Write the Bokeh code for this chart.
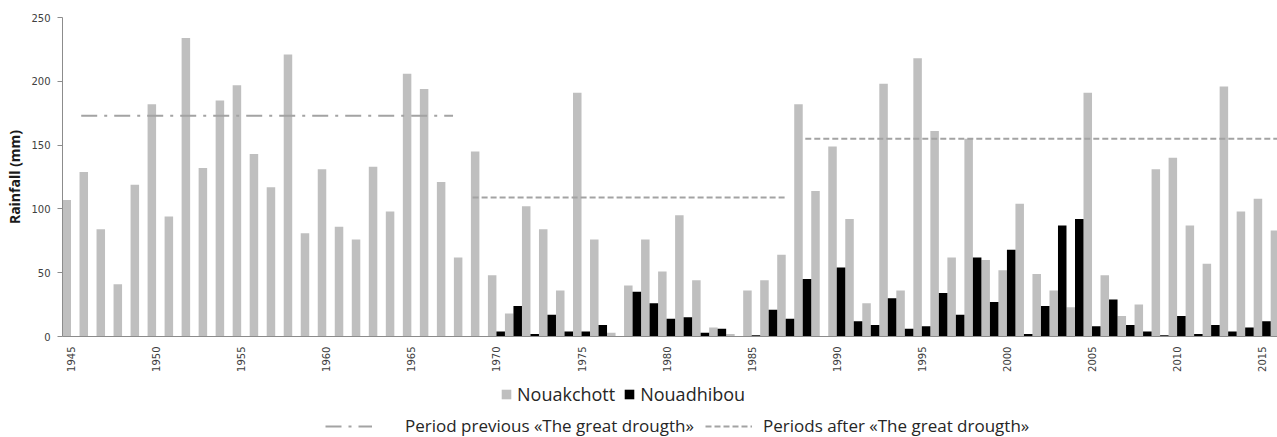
import math
from bokeh.plotting import figure
from bokeh.layouts import column
from bokeh.models import FixedTicker, Legend, LegendItem, ColumnDataSource
from bokeh.transform import dodge
from bokeh.embed import file_html
from bokeh.resources import INLINE

years = list(range(1945, 2017))
nouakchott = [107, 129, 84, 41, 119, 182, 94, 234, 132, 185,
              197, 143, 117, 221, 81, 131, 86, 76, 133, 98,
              206, 194, 121, 62, 145, 48, 18, 102, 84, 36,
              191, 76, 3, 40, 76, 51, 95, 44, 7, 2,
              36, 44, 64, 182, 114, 149, 92, 26, 198, 36,
              218, 161, 62, 155, 60, 52, 104, 49, 36, 23,
              191, 48, 16, 25, 131, 140, 87, 57, 196, 98,
              108, 83]
nouadhibou_years = list(range(1970, 2017))
nouadhibou = [4, 24, 2, 17, 4, 4, 9, None, 35, 26,
              14, 15, 3, 6, None, 1, 21, 14, 45, None,
              54, 12, 9, 30, 6, 8, 34, 17, 62, 27,
              68, 2, 24, 87, 92, 8, 29, 9, 4, 1,
              16, 2, 9, 4, 7, 12, None]

series_names = ["Nouakchott", "Nouadhibou"]
period_names = ["Period previous «The great drougth»",
                "Periods after «The great drougth»"]
period_start = [1945.6, 1968.6, 1988.15]
period_end = [1967.45, 1987.05, 2016.5]
period_mean = [173, 109, 155]

x_ticks = list(range(1945, 2016, 5))
y_ticks = [0, 50, 100, 150, 200, 250]

GRAY = "#bfbfbf"
BLACK = "#000000"
LINE = "#a3a3a3"
DASHDOT = "16 7 3 7"
DASHED = "6 3"

nk = ColumnDataSource(dict(year=years, rain=nouakchott))
nd = ColumnDataSource(dict(year=nouadhibou_years,
                           rain=[float("nan") if v is None else v for v in nouadhibou]))

p = figure(width=1277, height=380, x_range=(1944.5, 2015.9), y_range=(0, 250),
           output_backend="svg", toolbar_location=None,
           min_border_left=62, min_border_right=0, min_border_top=17,
           min_border_bottom=44)
p.xgrid.visible = False
p.ygrid.visible = False
p.outline_line_color = None

p.vbar(x=dodge("year", -0.25), top="rain", width=0.5, source=nk,
       fill_color=GRAY, line_color=None)
p.vbar(x=dodge("year", 0.25), top="rain", width=0.5, source=nd,
       fill_color=BLACK, line_color=None)

p.segment(x0=period_start[:1], x1=period_end[:1], y0=period_mean[:1], y1=period_mean[:1],
          line_color=LINE, line_width=2, line_dash=DASHDOT)
p.segment(x0=period_start[1:], x1=period_end[1:], y0=period_mean[1:], y1=period_mean[1:],
          line_color=LINE, line_width=2, line_dash=DASHED)

ax = p.yaxis[0]
ax.ticker = FixedTicker(ticks=y_ticks)
ax.axis_line_color = "#8c8c8c"
ax.major_tick_line_color = "#8c8c8c"
ax.major_tick_out = 5
ax.major_tick_in = 0
ax.minor_tick_line_color = None
ax.major_label_text_font = "DejaVu Sans"
ax.major_label_text_font_size = "10px"
ax.major_label_text_color = "#404040"
ax.major_label_standoff = 7
ax.axis_label = "Rainfall (mm)"
ax.axis_label_text_font = "Open Sans"
ax.axis_label_text_font_style = "bold"
ax.axis_label_text_font_size = "14px"
ax.axis_label_text_color = "#1a1a1a"
ax.axis_label_standoff = 4

bx = p.xaxis[0]
bx.ticker = FixedTicker(ticks=x_ticks)
bx.axis_line_color = "#8c8c8c"
bx.major_tick_out = 0
bx.major_tick_in = 0
bx.minor_tick_line_color = None
bx.major_label_orientation = math.pi / 2
bx.major_label_text_font = "DejaVu Sans"
bx.major_label_text_font_size = "10px"
bx.major_label_text_color = "#404040"
bx.major_label_standoff = 10

# legend strip below the chart (its frame is aligned with the chart frame, left = 62px)
q = figure(width=1277, height=57, x_range=(0, 1), y_range=(0, 1),
           output_backend="svg", toolbar_location=None,
           x_axis_type=None, y_axis_type=None, min_border=0)
q.outline_line_color = None
q.grid.visible = False
# legend-only renderers, placed entirely outside the strip's visible range
s_nk = q.vbar(x=[-5], bottom=[-6], top=[-5], width=0.5, fill_color=GRAY, line_color=None)
s_nd = q.vbar(x=[-5], bottom=[-6], top=[-5], width=0.5, fill_color=BLACK, line_color=None)
s_prev = q.segment(x0=[-5], x1=[-4], y0=[-5], y1=[-5], line_color=LINE, line_width=2, line_dash=DASHDOT)
s_after = q.segment(x0=[-5], x1=[-4], y0=[-5], y1=[-5], line_color=LINE, line_width=2, line_dash=DASHED)

common = dict(padding=0, margin=0, border_line_color=None, background_fill_alpha=0,
              label_text_font="Open Sans", label_text_color="#262626")

leg1 = Legend(items=[LegendItem(label=series_names[0], renderers=[s_nk]),
                     LegendItem(label=series_names[1], renderers=[s_nd])],
              orientation="horizontal", location=(438, 31), label_text_font_size="18px",
              glyph_width=12, glyph_height=12, label_standoff=5, spacing=8, **common)
leg2 = Legend(items=[LegendItem(label=period_names[0], renderers=[s_prev])],
              location=(263, 0), glyph_width=47, glyph_height=12, label_text_font_size="17px",
              label_standoff=33, **common)
leg3 = Legend(items=[LegendItem(label=period_names[1], renderers=[s_after])],
              location=(643, 0), glyph_width=47, glyph_height=12, label_text_font_size="17px",
              label_standoff=11, **common)
for lg in (leg1, leg2, leg3):
    q.add_layout(lg, "center")

layout = column(p, q, spacing=0)
open("out.html", "w").write(file_html(layout, INLINE))
